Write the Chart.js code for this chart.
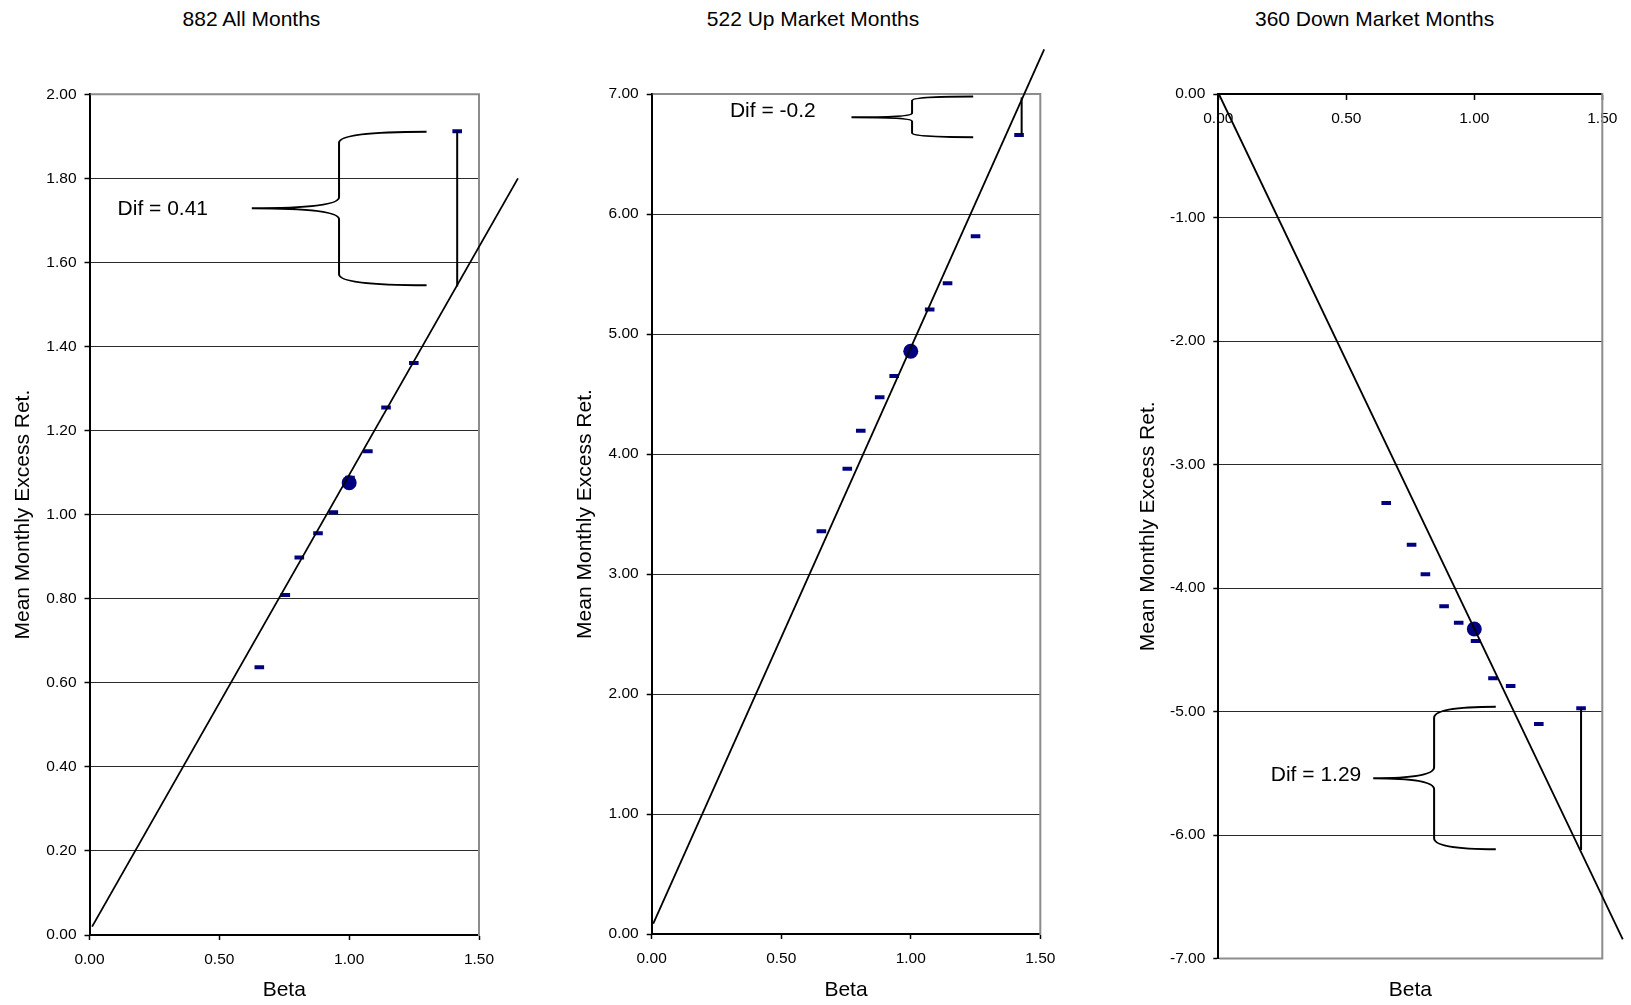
<!DOCTYPE html>
<html>
<head>
<meta charset="utf-8">
<script src="https://cdn.jsdelivr.net/npm/chart.js@4.4.0/dist/chart.umd.min.js"></script>
<style>
  html, body { margin: 0; padding: 0; background: #fff; width: 1631px; height: 1005px; overflow: hidden; }
  canvas { position: absolute; top: 0; }
  .title { position: absolute; top: 7px; width: 400px; text-align: center; color: #000;
           font: 21px 'Liberation Sans', Arial, sans-serif; line-height: 24px; }
</style>
</head>
<body>
<div class="title" style="left:51.5px">882 All Months</div>
<div class="title" style="left:613px">522 Up Market Months</div>
<div class="title" style="left:1174.6px">360 Down Market Months</div>
<canvas id="allChart" width="545" height="1005" style="left:0px"></canvas>
<canvas id="upChart" width="545" height="1005" style="left:545px"></canvas>
<canvas id="downChart" width="541" height="1005" style="left:1090px"></canvas>
<script>
// tick values
const betaTicks = [0, 0.5, 1.0, 1.5];
const allTicks = [0, 0.2, 0.4, 0.6, 0.8, 1.0, 1.2, 1.4, 1.6, 1.8, 2.0];
const upTicks = [0, 1, 2, 3, 4, 5, 6, 7];
const downTicks = [-7, -6, -5, -4, -3, -2, -1, 0];

// portfolio betas and mean monthly excess returns
const allBeta = [0.654, 0.754, 0.808, 0.880, 0.939, 1.003, 1.072, 1.142, 1.249, 1.416];
const allRet = [0.637, 0.809, 0.898, 0.956, 1.006, 1.088, 1.151, 1.255, 1.361, 1.912];
const upBeta = [0.655, 0.755, 0.807, 0.880, 0.936, 1.003, 1.073, 1.142, 1.250, 1.418];
const upRet = [3.356, 3.878, 4.194, 4.472, 4.650, 4.860, 5.205, 5.422, 5.814, 6.658];
const downBeta = [0.656, 0.755, 0.809, 0.882, 0.939, 1.005, 1.073, 1.142, 1.252, 1.417];
const downRet = [-3.312, -3.649, -3.889, -4.148, -4.281, -4.429, -4.731, -4.794, -5.101, -4.974];

// market portfolio
const allMarket = [1.0, 1.076];
const upMarket = [1.0, 4.856];
const downMarket = [1.0, -4.332];

// fitted security market lines (end points)
const allLineBeta = [0.01, 1.65];
const allLineRet = [0.02, 1.80];
const upLineBeta = [0.006, 1.515];
const upLineRet = [0.086, 7.372];
const downLineBeta = [0.004, 1.58];
const downLineRet = [-0.008, -6.845];

// difference markers (vertical line from top portfolio to fitted line)
const allDifBeta = [1.416, 1.416];
const allDifRet = [1.912, 1.543];
const upDifBeta = [1.428, 1.428];
const upDifRet = [6.97, 6.66];
const downDifBeta = [1.417, 1.417];
const downDifRet = [-4.974, -6.121];

// brace annotations, in data units
const allBrace = { text: 'Dif = 0.41', textX: 0.108, textY: 1.727, tip: 0.625, spine: 0.961, end: 1.298, top: 1.911, mid: 1.729, bottom: 1.546 };
const upBrace = { text: 'Dif = -0.2', textX: 0.302, textY: 6.853, tip: 0.771, spine: 1.005, end: 1.241, top: 6.98, mid: 6.806, bottom: 6.64 };
const downBrace = { text: 'Dif = 1.29', textX: 0.205, textY: -5.514, tip: 0.605, spine: 0.843, end: 1.084, top: -4.961, mid: -5.541, bottom: -6.116 };

Chart.defaults.font.family = "'Liberation Sans', Arial, sans-serif";
Chart.defaults.color = '#000';

const tickFont = { size: 15.5 };
const axisTitleFont = { size: 21 };
const fmt = v => Number(v).toFixed(2);
const pts = (xs, ys) => xs.map((x, i) => ({ x: x, y: ys[i] }));

// grey frame on the plot sides that carry no axis
const framePlugin = {
    id: 'frame',
    beforeDatasetsDraw(chart, args, opts) {
        const { ctx, chartArea: a } = chart;
        ctx.save();
        ctx.strokeStyle = '#8c8c8c';
        ctx.lineWidth = 2;
        ctx.beginPath();
        (opts.sides || []).forEach(side => {
            if (side === 'top') { ctx.moveTo(a.left + 1, a.top); ctx.lineTo(a.right, a.top); }
            if (side === 'right') { ctx.moveTo(a.right, a.top - 1); ctx.lineTo(a.right, a.bottom + 1); }
            if (side === 'bottom') { ctx.moveTo(a.left + 1, a.bottom); ctx.lineTo(a.right + 1, a.bottom); }
        });
        ctx.stroke();
        ctx.restore();
    }
};

// curly brace with its "Dif = ..." label
const bracePlugin = {
    id: 'brace',
    afterDatasetsDraw(chart, args, b) {
        if (!b || b.tip === undefined) return;
        const xs = chart.scales.x, ys = chart.scales.y, ctx = chart.ctx;
        const tx = xs.getPixelForValue(b.tip), sx = xs.getPixelForValue(b.spine), ex = xs.getPixelForValue(b.end);
        const ty = ys.getPixelForValue(b.top), my = ys.getPixelForValue(b.mid), by = ys.getPixelForValue(b.bottom);
        const r = Math.min(11, (by - ty) / 10);
        ctx.save();
        ctx.strokeStyle = '#000';
        ctx.lineWidth = 2;
        ctx.beginPath();
        ctx.moveTo(ex, ty);
        ctx.quadraticCurveTo(sx, ty, sx, ty + r);
        ctx.lineTo(sx, my - r);
        ctx.quadraticCurveTo(sx, my, tx, my);
        ctx.quadraticCurveTo(sx, my, sx, my + r);
        ctx.lineTo(sx, by - r);
        ctx.quadraticCurveTo(sx, by, ex, by);
        ctx.stroke();
        ctx.fillStyle = '#000';
        ctx.font = "21px 'Liberation Sans', Arial, sans-serif";
        ctx.textAlign = 'left';
        ctx.textBaseline = 'middle';
        ctx.fillText(b.text, xs.getPixelForValue(b.textX), ys.getPixelForValue(b.textY));
        ctx.restore();
    }
};

function makeChart(id, spec) {
    const lay = spec.layout;
    const padLeft = lay.yTitleX - 12.6 - lay.left;
    const yWidth = lay.area.l - lay.left - padLeft;
    const xHeight = 1005 - lay.area.b;
    const ticksFrom = arr => s => { s.ticks = arr.map(v => ({ value: v })); };

    const scales = {
        y: {
            type: 'linear',
            min: spec.yTicks[0],
            max: spec.yTicks[spec.yTicks.length - 1],
            afterBuildTicks: ticksFrom(spec.yTicks),
            afterFit: s => { s.width = yWidth; },
            ticks: { font: tickFont, color: '#000', padding: 8, callback: fmt },
            grid: { color: '#2a2a2a', lineWidth: 1, tickLength: 5, tickColor: '#000', tickWidth: 1.5 },
            border: { color: '#000', width: 2 },
            title: { display: true, text: 'Mean Monthly Excess Ret.', font: axisTitleFont, color: '#000', padding: 0 }
        },
        x: {
            type: 'linear',
            position: spec.xOnTop ? { y: 0 } : 'bottom',
            min: 0,
            max: 1.5,
            afterBuildTicks: ticksFrom(betaTicks),
            afterFit: s => { if (!spec.xOnTop) s.height = xHeight; },
            ticks: { font: tickFont, color: '#000', padding: 10, callback: fmt, maxRotation: 0 },
            grid: { drawOnChartArea: false, tickLength: 5, tickColor: '#000', tickWidth: 1.5 },
            border: { color: '#000', width: 2 },
            title: { display: !spec.xOnTop, text: 'Beta', font: axisTitleFont, color: '#000', padding: { top: 0, bottom: 2 } }
        }
    };
    if (spec.xOnTop) {
        scales.x2 = {
            type: 'linear',
            axis: 'x',
            position: 'bottom',
            min: 0,
            max: 1.5,
            afterFit: s => { s.height = xHeight; },
            ticks: { display: false },
            grid: { display: false },
            border: { display: false },
            title: { display: true, text: 'Beta', font: axisTitleFont, color: '#000', padding: { top: 0, bottom: 2 } }
        };
    }

    return new Chart(document.getElementById(id), {
        type: 'scatter',
        data: {
            datasets: [
                {
                    label: 'Fitted line',
                    data: pts(spec.lineBeta, spec.lineRet),
                    showLine: true,
                    borderColor: '#000',
                    borderWidth: 1.8,
                    pointRadius: 0,
                    clip: false,
                    order: 0
                },
                {
                    label: 'Dif',
                    data: pts(spec.difBeta, spec.difRet),
                    showLine: true,
                    borderColor: '#000',
                    borderWidth: 2,
                    pointRadius: 0,
                    clip: false,
                    order: 1
                },
                {
                    label: 'Market',
                    data: [{ x: spec.market[0], y: spec.market[1] }],
                    pointStyle: 'circle',
                    pointRadius: 7.5,
                    backgroundColor: '#000080',
                    borderWidth: 0,
                    order: 2
                },
                {
                    label: 'Portfolios',
                    data: pts(spec.beta, spec.ret),
                    pointStyle: 'line',
                    pointRadius: 4.8,
                    borderColor: '#000080',
                    borderWidth: 4,
                    order: 3
                }
            ]
        },
        options: {
            responsive: false,
            animation: false,
            events: [],
            layout: {
                padding: {
                    left: padLeft,
                    right: lay.left + lay.width - lay.area.r,
                    top: lay.area.t,
                    bottom: 0
                }
            },
            plugins: {
                legend: { display: false },
                tooltip: { enabled: false },
                frame: { sides: spec.frameSides },
                brace: spec.brace
            },
            scales: scales
        },
        plugins: [framePlugin, bracePlugin]
    });
}

makeChart('allChart', {
    layout: { left: 0, width: 545, area: { l: 89.5, r: 479, t: 94.3, b: 935 }, yTitleX: 22.9 },
    yTicks: allTicks,
    beta: allBeta, ret: allRet, market: allMarket,
    lineBeta: allLineBeta, lineRet: allLineRet,
    difBeta: allDifBeta, difRet: allDifRet,
    brace: allBrace,
    frameSides: ['top', 'right']
});

makeChart('upChart', {
    layout: { left: 545, width: 545, area: { l: 651.7, r: 1040.3, t: 94, b: 934 }, yTitleX: 585.6 },
    yTicks: upTicks,
    beta: upBeta, ret: upRet, market: upMarket,
    lineBeta: upLineBeta, lineRet: upLineRet,
    difBeta: upDifBeta, difRet: upDifRet,
    brace: upBrace,
    frameSides: ['top', 'right']
});

makeChart('downChart', {
    layout: { left: 1090, width: 541, area: { l: 1218.3, r: 1602.3, t: 94, b: 958.5 }, yTitleX: 1148.4 },
    yTicks: downTicks,
    xOnTop: true,
    beta: downBeta, ret: downRet, market: downMarket,
    lineBeta: downLineBeta, lineRet: downLineRet,
    difBeta: downDifBeta, difRet: downDifRet,
    brace: downBrace,
    frameSides: ['right', 'bottom']
});
</script>
</body>
</html>
